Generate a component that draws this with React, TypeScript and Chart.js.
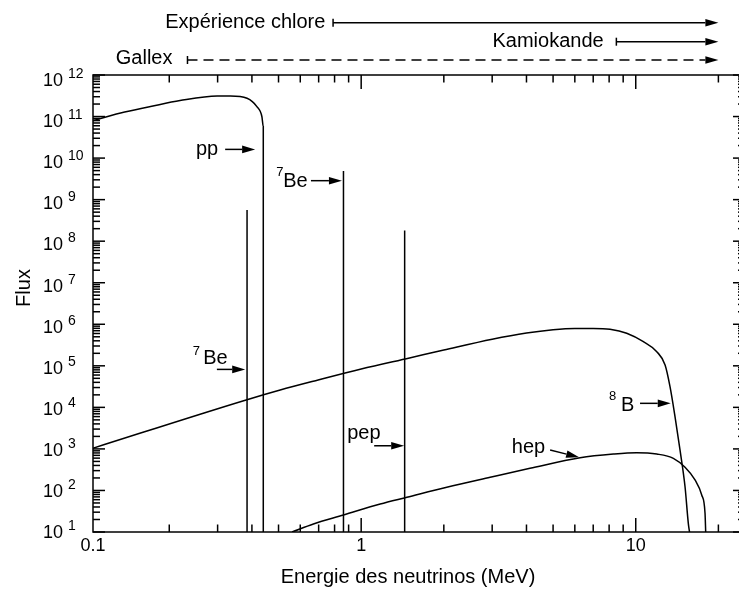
import { useEffect, useRef } from "react";
import { Chart, registerables } from "chart.js";

Chart.register(...registerables);

// pp continuum (MeV, flux)
const ppEnergy = [0.1, 0.133, 0.171, 0.219, 0.299, 0.334, 0.384, 0.417, 0.435, 0.44, 0.44];
const ppFlux = [7.2e10, 1.22e11, 1.74e11, 2.43e11, 3.13e11, 3.13e11, 2.75e11, 1.73e11, 9.9e10, 5.7e10, 10];

// 8B continuum
const b8Energy = [0.1, 0.381, 0.507, 0.697, 1, 1.5, 2, 3, 4, 5, 6, 7, 8.06, 9.27, 10.66, 11.93, 12.79, 13.33, 13.9, 14.5, 15.12, 15.54, 15.7];
const b8Flux = [9.3e2, 1.51e4, 2.62e4, 4.57e4, 8.4e4, 1.55e5, 2.4e5, 4.37e5, 6.17e5, 7.41e5, 7.94e5, 7.94e5, 7.57e5, 6.07e5, 3.8e5, 2.19e5, 1.05e5, 3.16e4, 6.0e3, 9.3e2, 1.23e2, 16.2, 10];

// hep continuum
const hepEnergy = [0.56, 0.67, 0.862, 1.173, 1.467, 2.05, 2.95, 4.12, 6.27, 8.29, 10.08, 11.93, 13.71, 15.12, 16.44, 17.39, 17.88, 17.98];
const hepFlux = [10, 15.6, 25.6, 47.2, 68.4, 119, 207, 341, 614, 753, 811, 753, 594, 361, 179, 77.6, 28.2, 10];

// monoenergetic lines: 7Be (two), pep
const lineEnergy = [0.384, 0.862, 1.44];
const lineFlux = [5.6e8, 4.9e9, 1.8e8];

// axis ranges and tick labels
const xMin = 0.1055;
const xMax = 25;
const yMin = 10;
const yMax = 1e12;
const yDecades = [1, 2, 3, 4, 5, 6, 7, 8, 9, 10, 11, 12];
const xLabelValues = [0.1, 1, 10];
const xLabelTexts = ["0.1", "1", "10"];

// labelled arrows pointing at the spectra (tip position in data units)
const markerText = ["pp", "Be", "Be", "pep", "hep", "B"];
const markerSup = ["", "7", "7", "", "", "8"];
const markerEnergy = [0.411, 0.851, 0.378, 1.434, 6.22, 13.41];
const markerFlux = [1.62e10, 2.86e9, 8.2e4, 1.19e3, 628, 1.25e4];

// detector thresholds
const experimentNames = ["Expérience chlore", "Kamiokande", "Gallex"];
const experimentThreshold = [0.79, 8.5, 0.233];
const experimentEnd = 20;

const FONT = "'Liberation Sans', Arial, Helvetica, sans-serif";

// pixel layout of the arrow labels: tail offset, text offset, superscript offset
const markerLayout = [
  { tail: [-30, 0], text: [-37, 5.7], align: "right", sup: [0, 0] },
  { tail: [-31, 0], text: [-58.7, 6.6], align: "left", sup: [-65.7, -4.4] },
  { tail: [-28.3, 0], text: [-42, -5.3], align: "left", sup: [-52.3, -14.8] },
  { tail: [-30, 0], text: [-57, -6.4], align: "left", sup: [0, 0] },
  { tail: [-29, -7.3], text: [-67.3, -4.3], align: "left", sup: [0, 0] },
  { tail: [-30.7, 0], text: [-49.7, 7.7], align: "left", sup: [-61.7, -3.3] },
];

const experimentLayout = [
  { y: 22.7, gap: 7.7, dy: 5, dashed: false },
  { y: 41.7, gap: 12.7, dy: 5, dashed: false },
  { y: 60, gap: 15, dy: 4, dashed: true },
];

function seg(ctx: CanvasRenderingContext2D, x1: number, y1: number, x2: number, y2: number) {
  ctx.beginPath();
  ctx.moveTo(x1, y1);
  ctx.lineTo(x2, y2);
  ctx.stroke();
}

function arrow(
  ctx: CanvasRenderingContext2D,
  x1: number,
  y1: number,
  x2: number,
  y2: number,
  dashed = false
) {
  const head = 13;
  const half = 3.8;
  const ang = Math.atan2(y2 - y1, x2 - x1);
  const bx = x2 - head * Math.cos(ang);
  const by = y2 - head * Math.sin(ang);
  ctx.save();
  if (dashed) ctx.setLineDash([10, 6]);
  seg(ctx, x1, y1, bx, by);
  ctx.restore();
  ctx.beginPath();
  ctx.moveTo(x2, y2);
  ctx.lineTo(bx - half * Math.sin(ang), by + half * Math.cos(ang));
  ctx.lineTo(bx + half * Math.sin(ang), by - half * Math.cos(ang));
  ctx.closePath();
  ctx.fill();
}

const framePlugin = {
  id: "frame",
  afterDatasetsDraw(chart: any) {
    const ctx: CanvasRenderingContext2D = chart.ctx;
    const { left, right, top, bottom } = chart.chartArea;
    const xs = chart.scales.x;
    const ys = chart.scales.y;
    ctx.save();
    ctx.strokeStyle = "#000";
    ctx.fillStyle = "#000";
    ctx.lineWidth = 1.5;
    ctx.strokeRect(left, top, right - left, bottom - top);

    // vertical axis ticks, both sides, pointing inward
    for (const n of yDecades) {
      for (let k = 1; k <= 9; k++) {
        const v = k * Math.pow(10, n);
        if (v > yMax) break;
        const py = ys.getPixelForValue(v);
        const len = k === 1 ? 12 : 7;
        seg(ctx, left, py, left + len, py);
        seg(ctx, right, py, right - len, py);
      }
    }
    // horizontal axis ticks, top and bottom
    for (let m = -1; m <= 1; m++) {
      for (let k = 1; k <= 9; k++) {
        const v = k * Math.pow(10, m);
        if (v < xMin || v > xMax) continue;
        const px = xs.getPixelForValue(v);
        const len = k === 1 ? 14 : 7.5;
        seg(ctx, px, bottom, px, bottom - len);
        seg(ctx, px, top, px, top + len);
      }
    }

    // y tick labels 10^n
    for (const n of yDecades) {
      const py = ys.getPixelForValue(Math.pow(10, n));
      const base = py + 6.3 + (n - 1) * 0.43;
      ctx.font = `18px ${FONT}`;
      ctx.textAlign = "right";
      ctx.textBaseline = "alphabetic";
      ctx.fillText("10", 63, base);
      ctx.font = `14px ${FONT}`;
      ctx.textAlign = "left";
      ctx.fillText(String(n), 68, base - 8);
    }
    // x tick labels
    ctx.font = `18px ${FONT}`;
    ctx.textAlign = "center";
    xLabelValues.forEach((v, i) => {
      const px = Math.max(left, xs.getPixelForValue(v));
      ctx.fillText(xLabelTexts[i], px, 551);
    });

    // axis titles
    ctx.font = `20px ${FONT}`;
    ctx.fillText("Energie des neutrinos (MeV)", 408, 583);
    ctx.save();
    ctx.translate(30, 288);
    ctx.rotate(-Math.PI / 2);
    ctx.fillText("Flux", 0, 0);
    ctx.restore();

    // labelled arrows
    markerText.forEach((t, i) => {
      const L = markerLayout[i];
      const tx = xs.getPixelForValue(markerEnergy[i]);
      const ty = ys.getPixelForValue(markerFlux[i]);
      arrow(ctx, tx + L.tail[0], ty + L.tail[1], tx, ty);
      ctx.font = `20px ${FONT}`;
      ctx.textAlign = L.align as CanvasTextAlign;
      ctx.fillText(t, tx + L.text[0], ty + L.text[1]);
      if (markerSup[i]) {
        ctx.font = `13px ${FONT}`;
        ctx.textAlign = "left";
        ctx.fillText(markerSup[i], tx + L.sup[0], ty + L.sup[1]);
      }
    });

    // detector threshold bars above the plot
    const xEnd = xs.getPixelForValue(experimentEnd);
    experimentNames.forEach((name, i) => {
      const L = experimentLayout[i];
      const x0 = xs.getPixelForValue(experimentThreshold[i]);
      seg(ctx, x0, L.y - 4, x0, L.y + 4);
      arrow(ctx, x0, L.y, xEnd, L.y, L.dashed);
      ctx.font = `20px ${FONT}`;
      ctx.textAlign = "right";
      ctx.fillText(name, x0 - L.gap, L.y + L.dy);
    });
    ctx.restore();
  },
};

function pts(xs: number[], ys: number[]) {
  return xs.map((x, i) => ({ x, y: ys[i] }));
}

export default function App() {
  const ref = useRef<HTMLCanvasElement>(null);

  useEffect(() => {
    if (!ref.current) return;
    const curve = { borderColor: "#000", borderWidth: 1.5, pointRadius: 0, fill: false, cubicInterpolationMode: "monotone" as const };
    const straight = { borderColor: "#000", borderWidth: 1.5, pointRadius: 0, fill: false, tension: 0 };
    const chart = new Chart(ref.current, {
      type: "line",
      data: {
        datasets: [
          { label: "pp", data: pts(ppEnergy, ppFlux), ...curve },
          { label: "8B", data: pts(b8Energy, b8Flux), ...curve },
          { label: "hep", data: pts(hepEnergy, hepFlux), ...curve },
          ...lineEnergy.map((e, i) => ({
            label: `line ${e}`,
            data: [
              { x: e, y: yMin },
              { x: e, y: lineFlux[i] },
            ],
            ...straight,
          })),
        ],
      },
      options: {
        animation: false,
        responsive: false,
        devicePixelRatio: 1,
        layout: { padding: { left: 93, top: 75, right: 15, bottom: 58 } },
        plugins: { legend: { display: false }, tooltip: { enabled: false }, title: { display: false } },
        scales: {
          x: { type: "logarithmic", min: xMin, max: xMax, display: false },
          y: { type: "logarithmic", min: yMin, max: yMax, display: false },
        },
      },
      plugins: [framePlugin],
    });
    return () => chart.destroy();
  }, []);

  return (
    <div style={{ position: "fixed", left: 0, top: 0, width: 739, height: 590, overflow: "hidden", background: "#fff" }}>
      <canvas ref={ref} width={760} height={590} style={{ display: "block" }} />
    </div>
  );
}
